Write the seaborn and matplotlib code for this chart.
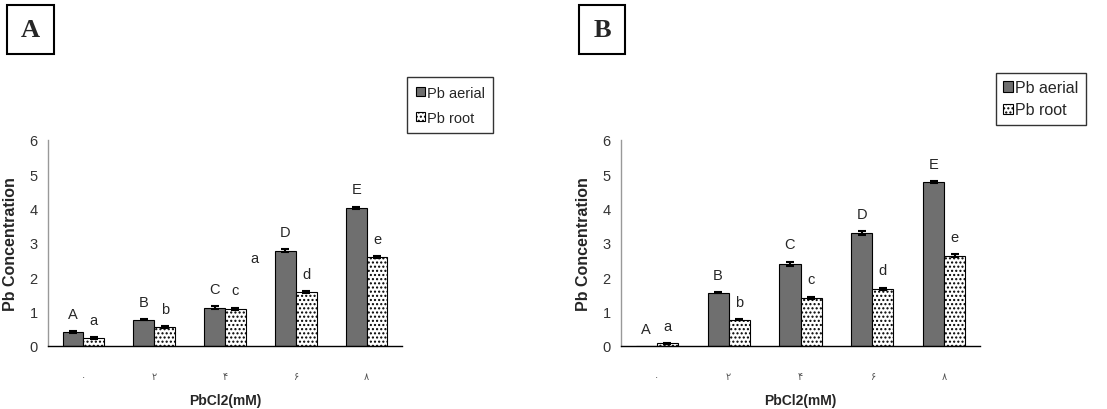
import matplotlib

matplotlib.use("Agg")
import matplotlib.pyplot as plt
import pandas as pd
import seaborn as sns
from matplotlib.patches import Patch, Rectangle

# Persian digit tick labels for PbCl2 concentration (0, 2, 4, 6, 8 mM)
DOSES = ["۰", "۲", "۴", "۶", "۸"]
SERIES = ["Pb aerial", "Pb root"]

# Panel A values
A_AERIAL = [0.40, 0.77, 1.12, 2.78, 4.03]
A_AERIAL_ERR = [0.03, 0.02, 0.04, 0.05, 0.03]
A_ROOT = [0.23, 0.54, 1.09, 1.57, 2.59]
A_ROOT_ERR = [0.02, 0.03, 0.03, 0.02, 0.03]
A_AERIAL_LETTERS = ["A", "B", "C", "D", "E"]
A_ROOT_LETTERS = ["a", "b", "c", "d", "e"]

# Panel B values
B_AERIAL = [0.0, 1.55, 2.40, 3.29, 4.77]
B_AERIAL_ERR = [0.0, 0.01, 0.06, 0.06, 0.03]
B_ROOT = [0.08, 0.77, 1.41, 1.67, 2.63]
B_ROOT_ERR = [0.01, 0.01, 0.03, 0.03, 0.05]
B_AERIAL_LETTERS = ["A", "B", "C", "D", "E"]
B_ROOT_LETTERS = ["a", "b", "c", "d", "e"]

AERIAL_COLOR = "#6f6f6f"
FONT = ["Liberation Sans", "DejaVu Sans"]


def build_frame(aerial, root):
    rows = []
    for dose, a, r in zip(DOSES, aerial, root):
        rows.append({"dose": dose, "series": SERIES[0], "value": a})
        rows.append({"dose": dose, "series": SERIES[1], "value": r})
    return pd.DataFrame(rows)


def draw_panel(ax, aerial, aerial_err, root, root_err, up_letters, low_letters):
    df = build_frame(aerial, root)
    sns.barplot(
        data=df, x="dose", y="value", hue="series", order=DOSES,
        hue_order=SERIES, palette=[AERIAL_COLOR, "white"], width=0.59,
        errorbar=None, edgecolor="black", linewidth=0.8, legend=False, ax=ax,
    )
    bars = ax.patches[:2 * len(DOSES)]
    aerial_bars, root_bars = bars[:len(DOSES)], bars[len(DOSES):]
    for p in root_bars:
        p.set_hatch("....")
        p.set_edgecolor("black")

    for group, errs, letters in ((aerial_bars, aerial_err, up_letters),
                                 (root_bars, root_err, low_letters)):
        for p, e, lab in zip(group, errs, letters):
            xc = p.get_x() + p.get_width() / 2
            h = p.get_height()
            if e > 0:
                ax.errorbar(xc, h, yerr=e, color="black", capsize=3,
                            elinewidth=1.5, capthick=1.5, fmt="none")
            ax.text(xc, h + e + 0.5, lab, ha="center", va="center",
                    fontsize=10.5, family=FONT)

    ax.set_ylim(0, 6)
    ax.set_xlim(-0.5, len(DOSES) - 0.5)
    ax.set_yticks(range(7))
    ax.set_xticks(range(len(DOSES)))
    ax.set_xticklabels(DOSES, family=["DejaVu Sans"], fontsize=7, color="#555555")
    ax.set_xticks([i - 0.5 for i in range(len(DOSES) + 1)], minor=True)
    ax.tick_params(axis="x", which="major", length=0, pad=18)
    ax.tick_params(axis="x", which="minor", length=4, width=1, color="#999999")
    ax.tick_params(axis="y", length=4, width=1, color="#999999", labelsize=10.5,
                   labelcolor="#333333")
    for lab in ax.get_yticklabels():
        lab.set_family(FONT)
    ax.set_ylabel("Pb Concentration", fontsize=11.5, fontweight="bold",
                  family=FONT, labelpad=8)
    ax.set_xlabel("PbCl2(mM)", fontsize=10, fontweight="bold", family=FONT,
                  labelpad=9)
    for side in ("top", "right"):
        ax.spines[side].set_visible(False)
    ax.spines["left"].set_color("#999999")
    ax.spines["bottom"].set_color("black")
    ax.spines["left"].set_linewidth(1)
    ax.spines["bottom"].set_linewidth(1)


def panel_label(fig, x0, y0, w, h, text):
    W, H = fig.get_size_inches() * fig.dpi
    fig.patches.append(Rectangle((x0 / W, 1 - (y0 + h) / H), w / W, h / H,
                                 transform=fig.transFigure, fill=False,
                                 edgecolor="black", linewidth=1.5))
    fig.text((x0 + w / 2) / W, 1 - (y0 + h / 2) / H, text, ha="center",
             va="center", fontsize=19, fontweight="bold",
             family=["Liberation Serif", "DejaVu Serif"])


def add_legend(fig, x0, y0, fontsize, spacing, pad):
    W, H = fig.get_size_inches() * fig.dpi
    handles = [
        Patch(facecolor=AERIAL_COLOR, edgecolor="black", linewidth=0.8),
        Patch(facecolor="white", edgecolor="black", linewidth=0.8, hatch="...."),
    ]
    leg = fig.legend(handles, SERIES, loc="upper left",
                     bbox_to_anchor=(x0 / W, 1 - y0 / H),
                     bbox_transform=fig.transFigure, frameon=True,
                     fancybox=False, handlelength=0.6, handleheight=0.6,
                     handletextpad=0.15, labelspacing=spacing, borderpad=pad,
                     borderaxespad=0, prop={"family": FONT, "size": fontsize})
    leg.get_frame().set_edgecolor("black")
    leg.get_frame().set_linewidth(1)


def main() -> None:
    sns.set_style("white")
    plt.rcParams["hatch.color"] = "#8a8a8a"
    plt.rcParams["hatch.linewidth"] = 1.0

    fig = plt.figure(figsize=(11.07, 4.10), dpi=100)
    W, H = 1107, 410
    ax_a = fig.add_axes([48 / W, 1 - 347 / H, (402 - 48) / W, (347 - 141) / H])
    ax_b = fig.add_axes([621 / W, 1 - 347 / H, (980 - 621) / W, (347 - 141) / H])

    draw_panel(ax_a, A_AERIAL, A_AERIAL_ERR, A_ROOT, A_ROOT_ERR,
               A_AERIAL_LETTERS, A_ROOT_LETTERS)
    draw_panel(ax_b, B_AERIAL, B_AERIAL_ERR, B_ROOT, B_ROOT_ERR,
               B_AERIAL_LETTERS, B_ROOT_LETTERS)

    # stray letter that sits between the 4 and 6 mM groups in panel A
    ax_a.text(2.41, 2.56, "a", ha="center", va="center", fontsize=10.5,
              family=FONT)

    panel_label(fig, 7, 6, 47, 49, "A")
    panel_label(fig, 579, 6, 46, 49, "B")
    add_legend(fig, 407, 78, 10.5, 0.75, 0.6)
    add_legend(fig, 996, 74, 11.5, 0.45, 0.45)

    fig.savefig("out.png", dpi=100)
    plt.close(fig)


if __name__ == "__main__":
    main()
